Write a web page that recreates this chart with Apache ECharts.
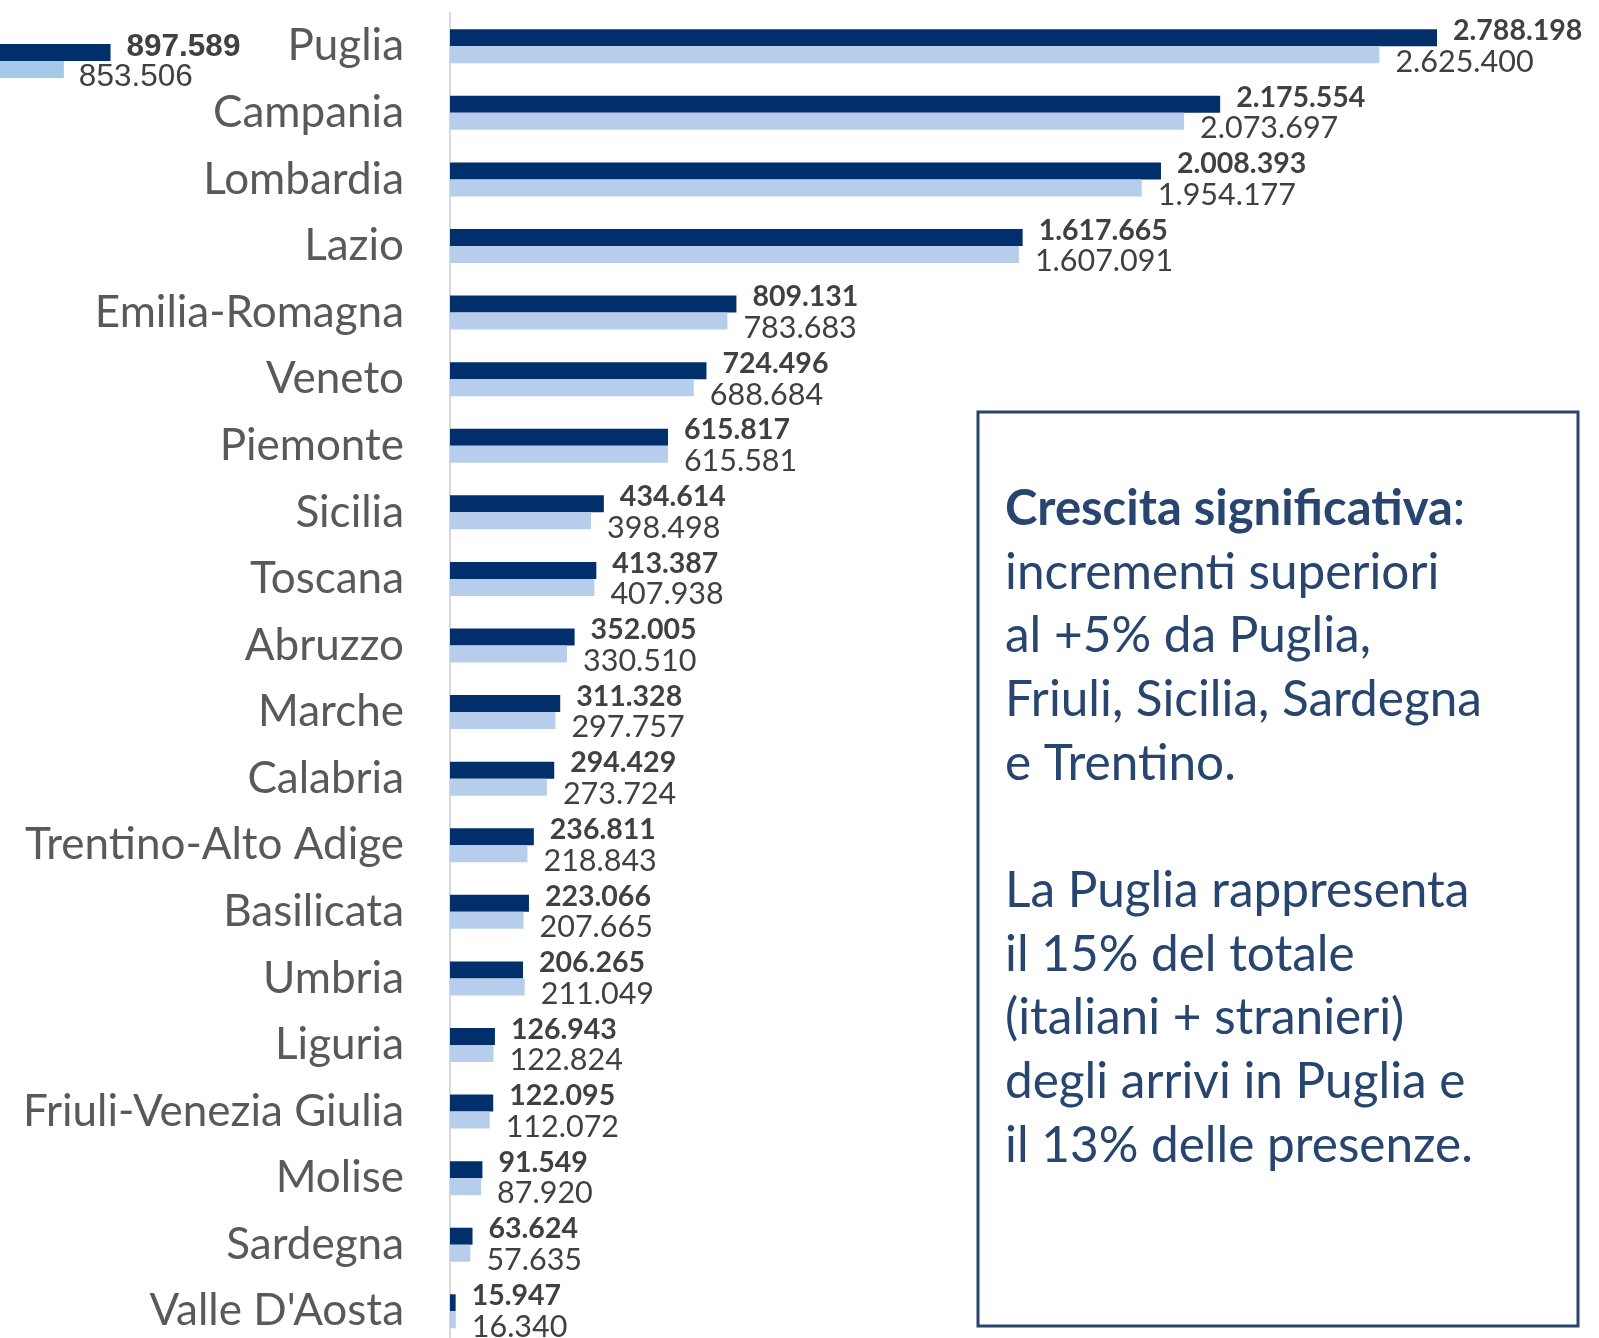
<!DOCTYPE html>
<html>
<head>
<meta charset="utf-8">
<script src="https://cdn.jsdelivr.net/npm/echarts@6/dist/echarts.min.js"></script>
<style>
html,body{margin:0;padding:0;background:#fff;overflow:hidden;width:1599px;height:1338px;}
#chart{width:1700px;height:1350px;}
</style>
</head>
<body>
<div id="chart"></div>
<script>
const categories = ['Puglia','Campania','Lombardia','Lazio','Emilia-Romagna','Veneto','Piemonte','Sicilia','Toscana','Abruzzo','Marche','Calabria','Trentino-Alto Adige','Basilicata','Umbria','Liguria','Friuli-Venezia Giulia','Molise','Sardegna',"Valle D'Aosta"];
const values2025 = [2788198,2175554,2008393,1617665,809131,724496,615817,434614,413387,352005,311328,294429,236811,223066,206265,126943,122095,91549,63624,15947];
const values2024 = [2625400,2073697,1954177,1607091,783683,688684,615581,398498,407938,330510,297757,273724,218843,207665,211049,122824,112072,87920,57635,16340];
// partially visible neighbouring chart (cut at the left edge)
const sideCategories = ['Puglia'];
const side2025 = [897589];
const side2024 = [853506];
const boxLines1 = ['incrementi superiori','al +5% da Puglia,','Friuli, Sicilia, Sardegna','e Trentino.'];
const boxLines2 = ['La Puglia rappresenta','il 15% del totale','(italiani + stranieri)','degli arrivi in Puglia e','il 13% delle presenze.'];

const fmt = v => String(v).replace(/\B(?=(\d{3})+(?!\d))/g, '.');
const FONT = 'Lato';
const DARK = '#002F6C', LIGHT = '#B6CEEC', BOXC = '#27456E';

const chart = echarts.init(document.getElementById('chart'), null, {renderer:'canvas', width: 1700, height: 1350});

const boxText = '{b|Crescita significativa}{n|:}\n' + boxLines1.map(l => '{n|' + l + '}').join('\n') + '\n{n| }\n' + boxLines2.map(l => '{n|' + l + '}').join('\n');

const rightOf = (gap, dy) => p => ({
  x: p.rect.x + p.rect.width + gap,
  y: p.rect.y + p.rect.height / 2 + dy,
  align: 'left', verticalAlign: 'middle'
});

chart.setOption({
  animation: false,
  backgroundColor: '#ffffff',
  grid: [
    {left: 450, width: 1062, top: 13, height: 1331.6, containLabel: false},
    {left: 0, width: 219, top: 21, height: 80, containLabel: false}
  ],
  xAxis: [
    {gridIndex: 0, type: 'value', min: 0, max: 3000000, show: false, splitLine: {show: false}},
    {gridIndex: 1, type: 'value', min: 793200, max: 1000000, show: false, splitLine: {show: false}}
  ],
  yAxis: [
    {gridIndex: 0, type: 'category', data: categories, inverse: true,
     axisLine: {show: true, lineStyle: {color: '#D9D9D9', width: 2}},
     axisTick: {show: false},
     axisLabel: {fontFamily: FONT, fontSize: 44, color: '#595959', margin: 46}},
    {gridIndex: 1, type: 'category', data: sideCategories, inverse: true, show: false}
  ],
  series: [
    {type: 'bar', name: '2025', xAxisIndex: 0, yAxisIndex: 0, data: values2025, barWidth: 17, barGap: '0%',
     itemStyle: {color: DARK},
     labelLayout: rightOf(16, -7),
     label: {show: true, position: 'right', formatter: p => fmt(p.value),
             fontFamily: FONT, fontWeight: 'bold', fontSize: 28.5, color: '#404040'}},
    {type: 'bar', name: '2024', xAxisIndex: 0, yAxisIndex: 0, data: values2024, barWidth: 17, barGap: '0%',
     itemStyle: {color: LIGHT},
     labelLayout: rightOf(16, 7),
     label: {show: true, position: 'right', formatter: p => fmt(p.value),
             fontFamily: FONT, fontSize: 30.5, color: '#404040'}},
    {type: 'bar', xAxisIndex: 1, yAxisIndex: 1, data: side2025, barWidth: 17, barGap: '0%',
     itemStyle: {color: DARK},
     label: {show: true, position: 'right', distance: 16, offset: [0, -5], formatter: p => fmt(p.value),
             fontFamily: 'Liberation Sans', fontWeight: 'bold', fontSize: 31.5, color: '#404040'}},
    {type: 'bar', xAxisIndex: 1, yAxisIndex: 1, data: side2024, barWidth: 17, barGap: '0%',
     itemStyle: {color: '#A6C9EA'},
     label: {show: true, position: 'right', distance: 15, offset: [0, 8], formatter: p => fmt(p.value),
             fontFamily: 'Liberation Sans', fontSize: 31.5, color: '#404040'}}
  ],
  graphic: [
    {type: 'rect', shape: {x: 978, y: 412, width: 600, height: 914},
     style: {fill: 'none', stroke: BOXC, lineWidth: 3}},
    {type: 'text', x: 1005, y: 477,
     style: {text: boxText, fill: BOXC, font: '49.5px Lato', verticalAlign: 'top', align: 'left',
       rich: {
         b: {fontFamily: FONT, fontWeight: 'bold', fontSize: 49, lineHeight: 63.7, fill: BOXC},
         n: {fontFamily: FONT, fontSize: 49.5, lineHeight: 63.7, fill: BOXC}
       }}}
  ]
});
</script>
</body>
</html>
